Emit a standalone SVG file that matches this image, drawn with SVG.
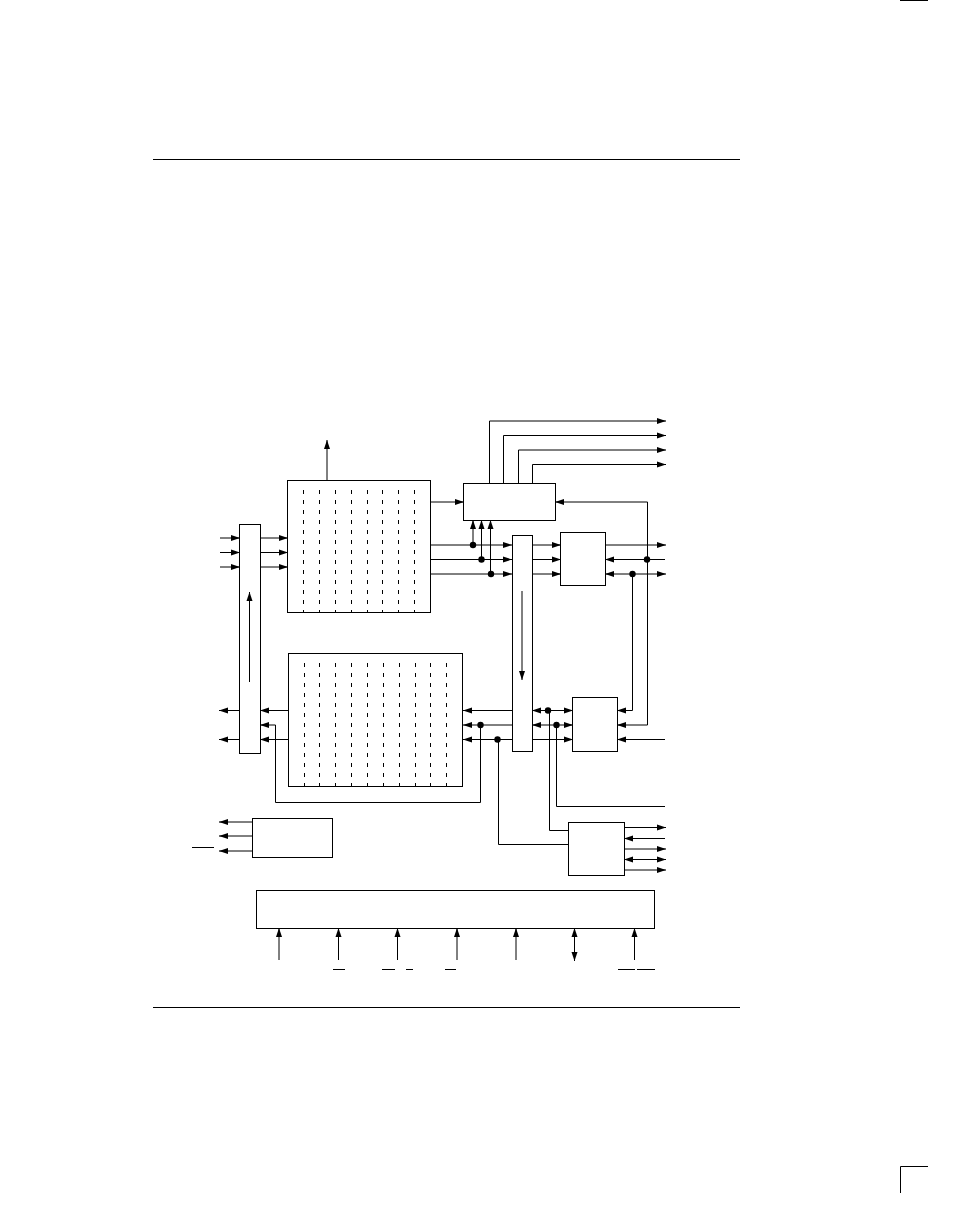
<svg xmlns="http://www.w3.org/2000/svg" width="954" height="1219" viewBox="0 0 954 1219">
<style>
.b{fill:#fff;stroke:#000;stroke-width:1}
.c{fill:none;stroke:#000;stroke-width:1}
.a{marker-end:url(#h)}
.d{marker-start:url(#h);marker-end:url(#h)}
.t{stroke:#000;stroke-width:1;stroke-dasharray:4 6;fill:none}
.r{stroke:#000;stroke-width:1;fill:none}
.j{fill:#000}
</style>
<defs>
<marker id="h" markerUnits="userSpaceOnUse" markerWidth="10" markerHeight="7" refX="9" refY="3.5" orient="auto-start-reverse"><path d="M0 .5L9 3.5L0 6.5Z" fill="#000"/></marker>
</defs>
<rect width="954" height="1219" fill="#fff"/>
<g id="page-marks">
<path class="r" d="M153 159.5H740M153 1007.5H740M900 .5H928M900.5 1193V1166.5H928"/>
</g>
<g id="connectors">
<path class="c a" d="M327 480V440"/>
<path class="c a" d="M220 538H240"/><path class="c a" d="M220 552.5H240"/><path class="c a" d="M220 567H240"/>
<path class="c a" d="M260.5 538H288"/><path class="c a" d="M260.5 552.5H288"/><path class="c a" d="M260.5 567H288"/>
<path class="c a" d="M249.5 682V592"/>
<path class="c a" d="M522 591V680"/>
<path class="c a" d="M430.5 502H464"/>
<path class="c a" d="M489.5 483V421H666"/><path class="c a" d="M503.5 483V435.5H666"/><path class="c a" d="M518.5 483V450H666"/><path class="c a" d="M532.5 483V464.5H666"/>
<path class="c a" d="M647.5 559.5V502H555"/>
<path class="c a" d="M430.5 545H512"/><path class="c a" d="M430.5 559.5H512"/><path class="c a" d="M430.5 574H512"/>
<path class="c a" d="M473 545V520"/><path class="c a" d="M481.5 559.5V520"/><path class="c a" d="M490.5 574V520"/>
<path class="c a" d="M532.5 545H561"/><path class="c a" d="M532.5 559.5H561"/><path class="c a" d="M532.5 574H561"/>
<path class="c a" d="M605.5 545H666"/>
<path class="c a" d="M665 559.5H605"/>
<path class="c d" d="M605 574H666"/>
<path class="c a" d="M632.5 574V710.5H617"/>
<path class="c a" d="M647.5 559.5V725H617"/>
<path class="c a" d="M665 739.5H617"/>
<path class="c d" d="M532 710.5H573"/>
<path class="c d" d="M532 725H573"/>
<path class="c a" d="M532.5 739.5H573"/>
<path class="c" d="M549.5 710.5V830.5H568.5"/>
<path class="c" d="M556.5 725V806.5H665"/>
<path class="c a" d="M512.5 710.5H463"/><path class="c a" d="M512.5 725H463"/><path class="c a" d="M512.5 739.5H463"/>
<path class="c a" d="M480.5 725V802.5H275.5V725H260"/>
<path class="c" d="M498.5 739.5V844.5H568.5"/>
<path class="c a" d="M288.5 710.5H260"/><path class="c a" d="M288.5 739.5H260"/>
<path class="c a" d="M239.5 710.5H219"/><path class="c a" d="M239.5 739.5H219"/>
<path class="c a" d="M252.5 822H219"/><path class="c a" d="M252.5 836H219"/><path class="c a" d="M252.5 851H219"/>
<path class="c a" d="M624.5 827.5H666"/><path class="c a" d="M665 838.5H624"/><path class="c a" d="M624.5 849H666"/><path class="c d" d="M624 859.5H666"/><path class="c a" d="M624.5 870H666"/>
<path class="c a" d="M279 960V928"/><path class="c a" d="M338.5 960V928"/><path class="c a" d="M397.5 960V928"/><path class="c a" d="M457 960V928"/><path class="c a" d="M516 960V928"/><path class="c d" d="M574.5 928V961"/><path class="c a" d="M634.5 960V928"/>
<circle class="j" cx="473" cy="545" r="3.2"/><circle class="j" cx="481.5" cy="559.5" r="3.2"/><circle class="j" cx="491" cy="574" r="3.2"/>
<circle class="j" cx="647" cy="559.5" r="3.2"/><circle class="j" cx="632.5" cy="574" r="3.2"/>
<circle class="j" cx="548" cy="710.5" r="3.2"/><circle class="j" cx="556.5" cy="725" r="3.2"/>
<circle class="j" cx="480.5" cy="725" r="3.2"/><circle class="j" cx="497.5" cy="739.5" r="3.2"/>
</g>
<g id="array-upper">
<rect class="b" x="287.5" y="480.5" width="143" height="132"/>
<path class="t" d="M303.5 490V612M319.5 490V612M335.5 490V612M351.5 490V612M367.5 490V612M382.5 490V612M398.5 490V612M414.5 490V612"/>
</g>
<g id="array-lower">
<rect class="b" x="288.5" y="653.5" width="174" height="133"/>
<path class="t" d="M304.5 663V786M319.5 663V786M335.5 663V786M351.5 663V786M367.5 663V786M383.5 663V786M399.5 663V786M415.5 663V786M430.5 663V786M446.5 663V786"/>
</g>
<g id="bar-left"><rect class="b" x="239.5" y="524.5" width="21" height="229" fill-opacity="0"/></g>
<g id="bar-middle"><rect class="b" x="512.5" y="535.5" width="20" height="216" fill-opacity="0"/></g>
<g id="box-top"><rect class="b" x="463.5" y="483.5" width="92" height="37"/></g>
<g id="box-upper-right"><rect class="b" x="560.5" y="532.5" width="45" height="53"/></g>
<g id="box-lower-right"><rect class="b" x="572.5" y="697.5" width="45" height="54"/></g>
<g id="box-bottom-right"><rect class="b" x="568.5" y="822.5" width="56" height="53"/></g>
<g id="box-left"><rect class="b" x="252.5" y="818.5" width="80" height="39"/></g>
<g id="box-wide"><rect class="b" x="256.5" y="890.5" width="398" height="38"/></g>
<g id="overbars">
<path class="r" d="M192 847.5H214M333 969.5H345M382 969.5H395M406 969.5H413M445 969.5H456M618 969.5H635M637 969.5H655"/>
</g>
</svg>
